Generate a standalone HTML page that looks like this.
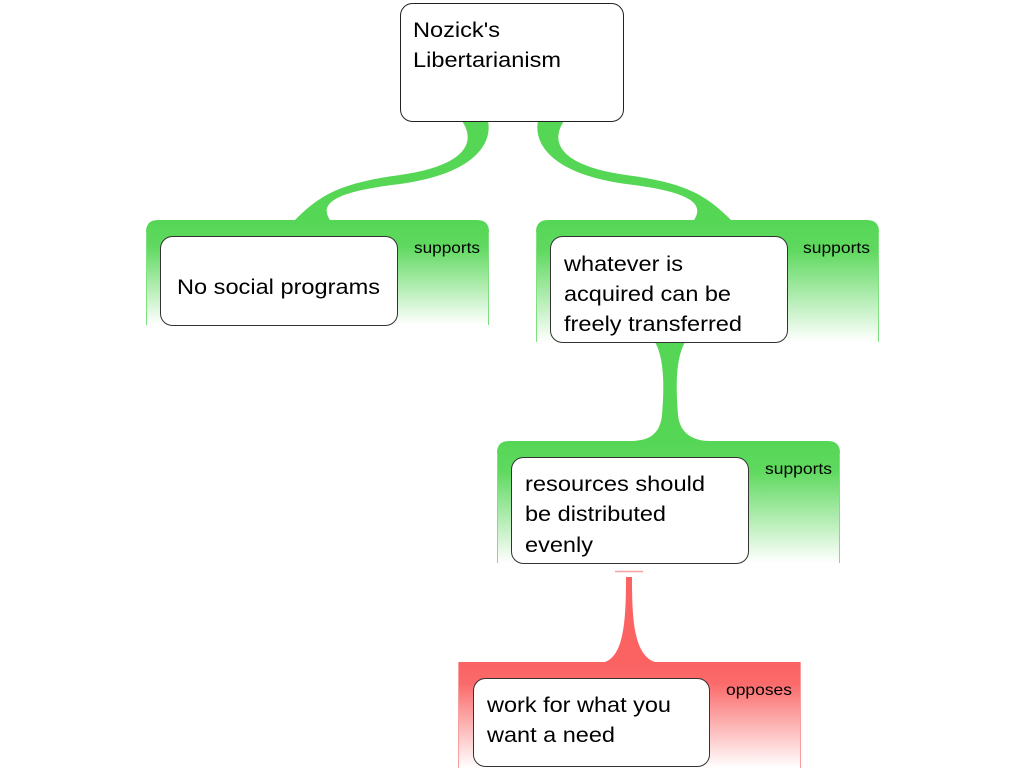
<!DOCTYPE html>
<html><head><meta charset="utf-8"><style>
html,body{margin:0;padding:0;background:#fff;}
svg{display:block;font-family:"Liberation Sans",sans-serif;}
</style></head><body>
<svg width="1024" height="768" viewBox="0 0 1024 768" xmlns="http://www.w3.org/2000/svg">
<defs>
<linearGradient id="g" x1="0" y1="0" x2="0" y2="1">
<stop offset="0" stop-color="#55d655"/><stop offset="0.25" stop-color="#5fd95f"/><stop offset="1" stop-color="#ffffff"/>
</linearGradient>
<linearGradient id="r" x1="0" y1="0" x2="0" y2="1">
<stop offset="0" stop-color="#fb6262"/><stop offset="0.2" stop-color="#fb6a6a"/><stop offset="1" stop-color="#ffffff"/>
</linearGradient>
</defs>
<path d="M462 121 C475 140 470 165 400 175 C340 183 320 195 295 220 L330 220 C320 205 330 192 400 184 C480 173 492 140 488 121 Z" fill="#55d655"/>
<path d="M538 121 C534 140 546 173 626 184 C694 192 704 205 694 220 L731 220 C706 195 686 183 626 175 C556 165 551 140 564 121 Z" fill="#55d655"/>
<path d="M655 342 L685 342 C675 360 676 390 678 415 C680 435 695 441 710 441 L630 441 C648 441 660 435 662 415 C664 390 665 360 655 342 Z" fill="#55d655"/>
<path d="M626 577 L632 577 C632 620 634 655 655 662 L605 662 C624 655 626 620 626 577 Z" fill="#fb6262"/>
<line x1="615" y1="571.5" x2="643" y2="571.5" stroke="#f7a0a0" stroke-width="1.5"/>
<path d="M146 325 L146 232 Q146 220 158 220 L477 220 Q489 220 489 232 L489 325 Z" fill="url(#g)"/>
<path d="M536 342 L536 232 Q536 220 548 220 L867 220 Q879 220 879 232 L879 342 Z" fill="url(#g)"/>
<path d="M497 563 L497 453 Q497 441 509 441 L828 441 Q840 441 840 453 L840 563 Z" fill="url(#g)"/>
<rect x="458" y="662" width="343" height="106" fill="url(#r)"/>
<g stroke="#7fe07f" stroke-width="1">
<line x1="146.5" y1="232" x2="146.5" y2="325"/><line x1="488.5" y1="232" x2="488.5" y2="325"/>
<line x1="536.5" y1="232" x2="536.5" y2="342"/><line x1="878.5" y1="232" x2="878.5" y2="342"/>
<line x1="497.5" y1="453" x2="497.5" y2="563"/><line x1="839.5" y1="453" x2="839.5" y2="563"/>
</g>
<g stroke="#f8a0a0" stroke-width="1">
<line x1="458.5" y1="662" x2="458.5" y2="768"/><line x1="800.5" y1="662" x2="800.5" y2="768"/>
</g>
<rect x="400.5" y="3.5" width="223" height="118" rx="12" fill="#fff" stroke="#222"/>
<rect x="160.5" y="236.5" width="237" height="89" rx="12" fill="#fff" stroke="#333"/>
<rect x="550.5" y="236.5" width="237" height="106" rx="12" fill="#fff" stroke="#333"/>
<rect x="511.5" y="457.5" width="237" height="106" rx="12" fill="#fff" stroke="#333"/>
<rect x="473.5" y="678.5" width="236" height="88" rx="12" fill="#fff" stroke="#333"/>
<g font-size="21" fill="#000" lengthAdjust="spacingAndGlyphs">
<text x="413" y="37" textLength="87" lengthAdjust="spacingAndGlyphs">Nozick's</text>
<text x="413" y="67" textLength="148" lengthAdjust="spacingAndGlyphs">Libertarianism</text>
<text x="177" y="294" textLength="203" lengthAdjust="spacingAndGlyphs">No social programs</text>
<text x="564" y="271" textLength="119" lengthAdjust="spacingAndGlyphs">whatever is</text>
<text x="564" y="301" textLength="167" lengthAdjust="spacingAndGlyphs">acquired can be</text>
<text x="564" y="331" textLength="178" lengthAdjust="spacingAndGlyphs">freely transferred</text>
<text x="525" y="491" textLength="180" lengthAdjust="spacingAndGlyphs">resources should</text>
<text x="525" y="521" textLength="141" lengthAdjust="spacingAndGlyphs">be distributed</text>
<text x="525" y="552" textLength="68" lengthAdjust="spacingAndGlyphs">evenly</text>
<text x="487" y="712" textLength="184" lengthAdjust="spacingAndGlyphs">work for what you</text>
<text x="487" y="742" textLength="128" lengthAdjust="spacingAndGlyphs">want a need</text>
</g>
<g font-size="16" fill="#000">
<text x="414" y="253" textLength="66" lengthAdjust="spacingAndGlyphs">supports</text>
<text x="803" y="253" textLength="67" lengthAdjust="spacingAndGlyphs">supports</text>
<text x="765" y="474" textLength="67" lengthAdjust="spacingAndGlyphs">supports</text>
<text x="726" y="695" textLength="66" lengthAdjust="spacingAndGlyphs">opposes</text>
</g>
</svg>
</body></html>
